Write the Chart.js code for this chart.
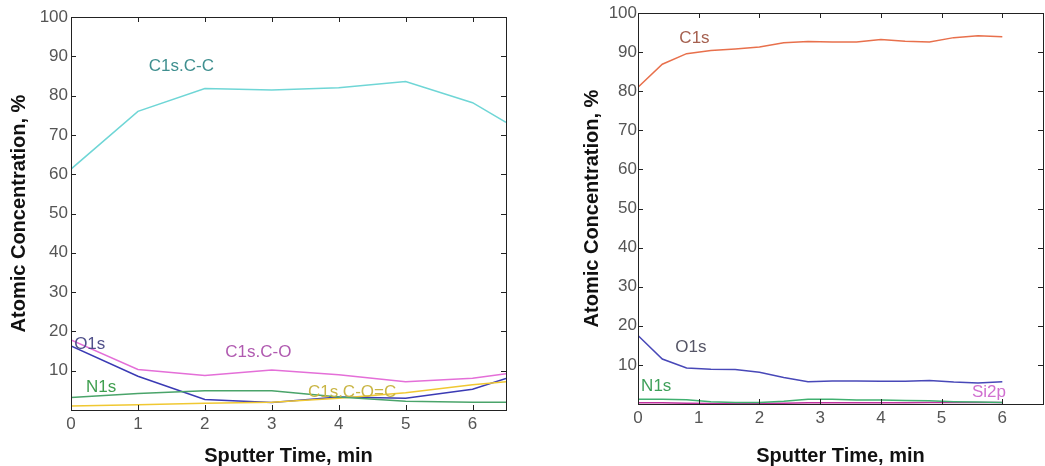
<!DOCTYPE html>
<html lang="en">
<head>
<meta charset="UTF-8">
<title>Atomic Concentration vs Sputter Time</title>
<script src="https://cdn.jsdelivr.net/npm/chart.js"></script>
<style>
  body { margin: 0; background: #fff; }
  .wrap { position: absolute; top: 0; }
</style>
</head>
<body>
<div class="wrap" style="left:0"><canvas id="leftChart" width="530" height="466"></canvas></div>
<div class="wrap" style="left:560px"><canvas id="rightChart" width="485" height="466"></canvas></div>
<script>
// ---- left panel data (sputter time, min / atomic %) ----
const timeL = [0, 1, 2, 3, 4, 5, 6, 6.5];
const ccL   = [61.3, 76.0, 81.8, 81.4, 82.0, 83.6, 78.2, 73.2];   // C1s.C-C
const o1sL  = [16.3, 8.6, 2.7, 1.9, 3.3, 3.0, 5.3, 8.0];          // O1s
const coL   = [17.8, 10.3, 8.8, 10.2, 9.0, 7.2, 8.1, 9.2];        // C1s.C-O
const n1sL  = [3.2, 4.2, 4.9, 4.9, 3.3, 2.2, 2.0, 2.0];           // N1s
const cocL  = [1.0, 1.35, 1.7, 2.0, 3.0, 4.4, 6.4, 7.2];          // C1s.C-O=C

// ---- right panel data ----
const timeR = [0, 0.4, 0.8, 1.2, 1.6, 2.0, 2.4, 2.8, 3.2, 3.6, 4.0, 4.4, 4.8, 5.2, 5.6, 6.0];
const c1sR  = [81.0, 86.9, 89.6, 90.4, 90.8, 91.3, 92.4, 92.7, 92.6, 92.6, 93.2, 92.8, 92.6, 93.7, 94.2, 93.9];
const o1sR  = [17.5, 11.5, 9.2, 8.9, 8.8, 8.1, 6.8, 5.7, 5.9, 5.9, 5.8, 5.8, 6.0, 5.6, 5.4, 5.7];
const n1sR  = [1.2, 1.2, 1.1, 0.6, 0.4, 0.4, 0.7, 1.2, 1.2, 1.0, 1.0, 0.9, 0.8, 0.6, 0.5, 0.4];
const si2pR = [0.3, 0.3, 0.2, 0.1, 0.1, 0.1, 0.2, 0.3, 0.3, 0.3, 0.3, 0.3, 0.4, 0.4, 0.4, 0.4];

// ---- ticks ----
const xTicks = [0, 1, 2, 3, 4, 5, 6];
const yTicks = [10, 20, 30, 40, 50, 60, 70, 80, 90, 100];

const FONT = '"Liberation Sans", Arial, sans-serif';

function pts(xs, ys) {
  return ys.map((v, i) => ({ x: xs[i], y: v }));
}

function line(label, xs, ys, color) {
  return { label, data: pts(xs, ys), borderColor: color, borderWidth: 1.5,
           pointRadius: 0, tension: 0, fill: false };
}

// box around plot area with inward ticks on all four sides
const framePlugin = {
  id: 'frame',
  afterDraw(chart) {
    const { ctx, chartArea: a, scales: { x, y } } = chart;
    ctx.save();
    ctx.strokeStyle = '#222';
    ctx.lineWidth = 1;
    ctx.strokeRect(a.left + 0.5, a.top + 0.5, a.right - a.left, a.bottom - a.top);
    ctx.beginPath();
    x.ticks.forEach(t => {
      const px = Math.round(x.getPixelForValue(t.value)) + 0.5;
      ctx.moveTo(px, a.bottom); ctx.lineTo(px, a.bottom - 5);
      ctx.moveTo(px, a.top); ctx.lineTo(px, a.top + 5);
    });
    y.ticks.forEach(t => {
      const py = Math.round(y.getPixelForValue(t.value)) + 0.5;
      ctx.moveTo(a.left, py); ctx.lineTo(a.left + 5, py);
      ctx.moveTo(a.right, py); ctx.lineTo(a.right - 5, py);
    });
    ctx.stroke();
    ctx.restore();
  }
};

// series names written inside the plot
const labelPlugin = {
  id: 'seriesLabels',
  afterDatasetsDraw(chart, args, opts) {
    const { ctx, scales: { x, y } } = chart;
    ctx.save();
    ctx.font = '17px ' + FONT;
    ctx.textAlign = 'center';
    ctx.textBaseline = 'middle';
    opts.items.forEach(it => {
      ctx.fillStyle = it.color;
      ctx.fillText(it.text, x.getPixelForValue(it.x), y.getPixelForValue(it.y));
    });
    ctx.restore();
  }
};

function makeChart(id, datasets, o) {
  return new Chart(document.getElementById(id), {
    type: 'line',
    data: { datasets },
    plugins: [framePlugin, labelPlugin],
    options: {
      responsive: false,
      animation: false,
      layout: { padding: o.padding },
      plugins: {
        legend: { display: false },
        tooltip: { enabled: false },
        seriesLabels: { items: o.labels }
      },
      scales: {
        x: {
          type: 'linear', min: 0, max: o.xMax,
          afterBuildTicks: s => { s.ticks = xTicks.map(v => ({ value: v })); },
          afterFit: s => { s.height = o.xHeight; },
          grid: { display: false, drawTicks: false },
          border: { display: false },
          ticks: { color: '#555', font: { size: 17, family: FONT }, padding: 4, maxRotation: 0, autoSkip: false },
          title: { display: true, text: 'Sputter Time, min', color: '#111',
                   font: { size: 20, weight: 'bold', family: FONT }, padding: { top: 0, bottom: -2 } }
        },
        y: {
          type: 'linear', min: 0, max: 100,
          afterBuildTicks: s => { s.ticks = yTicks.map(v => ({ value: v })); },
          afterFit: s => { s.width = o.yWidth; },
          grid: { display: false, drawTicks: false },
          border: { display: false },
          ticks: { color: '#555', font: { size: 17, family: FONT }, padding: o.yTickPad },
          title: { display: true, text: 'Atomic Concentration, %', color: '#111',
                   font: { size: 20, weight: 'bold', family: FONT }, padding: { top: o.yTitlePad, bottom: 0 } }
        }
      }
    }
  });
}

makeChart('leftChart', [
  line('C1s.C-C', timeL, ccL, '#6fd6d6'),
  line('C1s.C-O', timeL, coL, '#e46fd8'),
  line('N1s', timeL, n1sL, '#4aa46a'),
  line('C1s.C-O=C', timeL, cocL, '#f0c832'),
  line('O1s', timeL, o1sL, '#3a3ab4')
], {
  padding: { top: 17, right: 24, left: 0, bottom: 0 },
  xMax: 6.5, xHeight: 56, yWidth: 71, yTickPad: 3, yTitlePad: 7,
  labels: [
    { text: 'C1s.C-C', x: 1.65, y: 87.5, color: '#3f8f8f' },
    { text: 'O1s', x: 0.28, y: 16.7, color: '#50508a' },
    { text: 'C1s.C-O', x: 2.8, y: 14.6, color: '#b05ab0' },
    { text: 'N1s', x: 0.45, y: 5.8, color: '#3f9f4f' },
    { text: 'C1s.C-O=C', x: 4.2, y: 4.4, color: '#c9b544' }
  ]
});

makeChart('rightChart', [
  line('C1s', timeR, c1sR, '#e8704c'),
  line('N1s', timeR, n1sR, '#40b070'),
  line('Si2p', timeR, si2pR, '#c0309e'),
  line('O1s', timeR, o1sR, '#4848b8')
], {
  padding: { top: 13, right: 2, left: 0, bottom: 0 },
  xMax: 6.67, xHeight: 62, yWidth: 78, yTickPad: 1, yTitlePad: 20,
  labels: [
    { text: 'C1s', x: 0.93, y: 93.5, color: '#a5604f' },
    { text: 'O1s', x: 0.87, y: 14.5, color: '#555566' },
    { text: 'N1s', x: 0.3, y: 4.5, color: '#3fa05a' },
    { text: 'Si2p', x: 5.78, y: 3.0, color: '#d070d0' }
  ]
});
</script>
</body>
</html>
